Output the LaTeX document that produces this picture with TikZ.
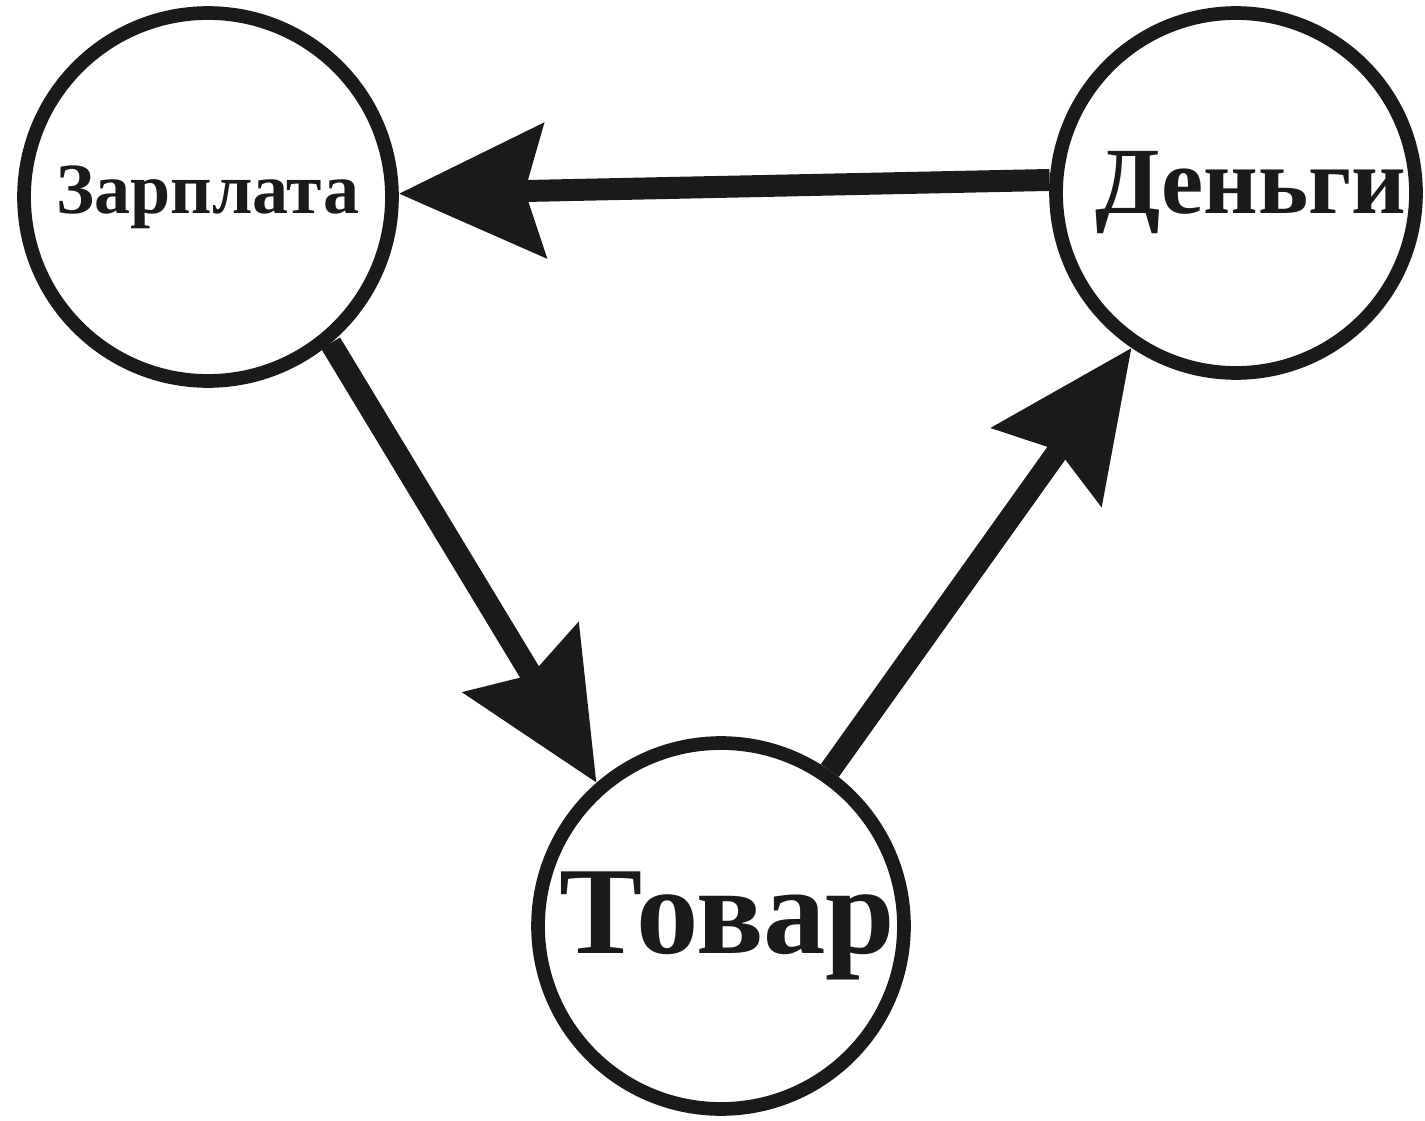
\documentclass[tikz,border=0pt]{standalone}
\usepackage{fontspec}
\setmainfont{Liberation Serif}
\usetikzlibrary{arrows.meta}
\definecolor{ink}{RGB}{26,26,26}
\begin{document}
\begin{tikzpicture}[x=0.02cm,y=-0.02cm,
  ring/.style={draw=ink,circle,line width=7.8pt,inner sep=0pt,font=\bfseries,text=ink},
  flow/.style={draw=ink,line width=12.5pt,-{Stealth[length=2.9cm,width=2.64cm,inset=0.38cm]}}]
\useasboundingbox (0,0) rectangle (1425,1121);
\node[ring,minimum size=7.36cm,font=\bfseries\fontsize{41}{46}\selectfont] (zar) at (208,197) {\raisebox{-4pt}{Зарплата}};
\node[ring,minimum size=7.2cm,font=\bfseries\fontsize{54}{60}\selectfont] (den) at (1236,193) {\hspace*{0.6cm}\raisebox{-3pt}{Деньги}};
\node[ring,minimum size=7.32cm,font=\bfseries\fontsize{71}{78}\selectfont] (tov) at (721,926) {\hspace*{0.25cm}\raisebox{-3pt}{Товар}};
\draw[flow] (den.176.9) -- (zar.1.5);
\draw[flow] (zar.-50.5) -- (tov.131.7);
\draw[flow] (tov.55.7) -- (den.236);
\end{tikzpicture}
\end{document}
